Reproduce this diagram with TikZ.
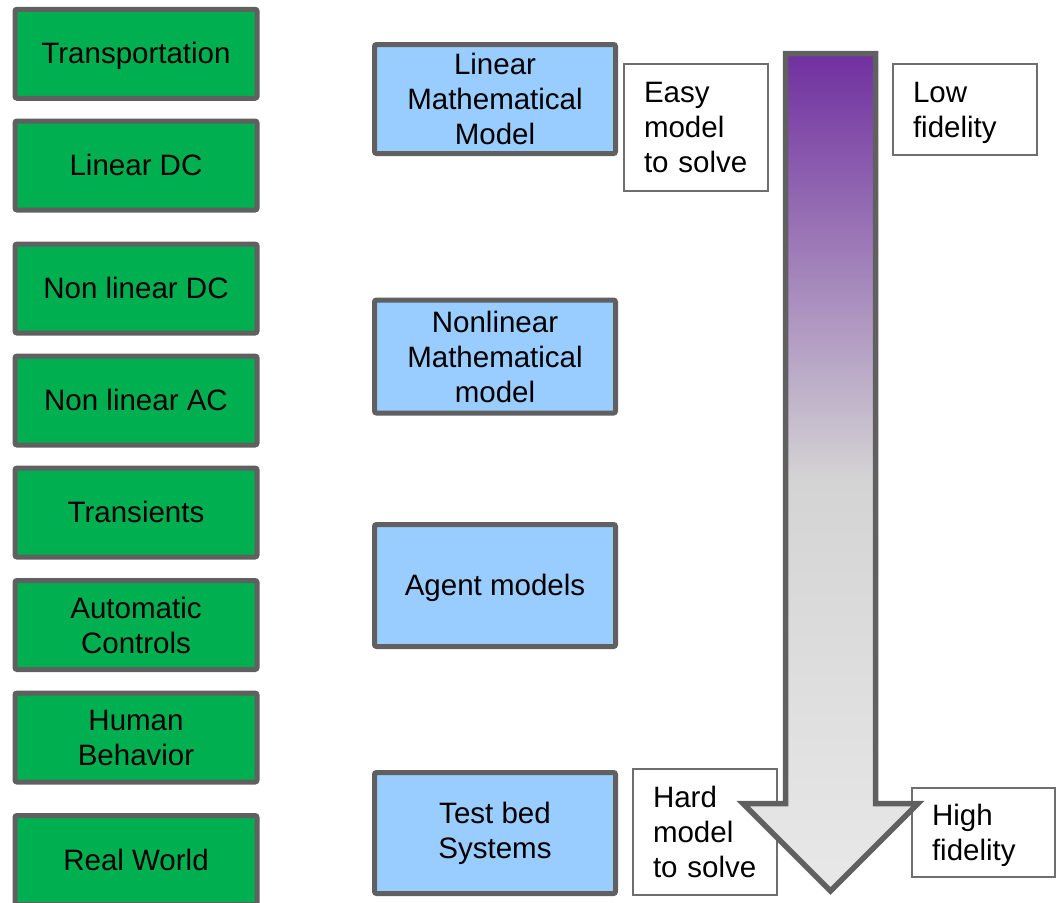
\documentclass[tikz,border=0pt]{standalone}
\usepackage{fontspec}
\setmainfont{Liberation Sans}
\definecolor{boxgreen}{HTML}{00B050}
\definecolor{boxblue}{HTML}{99CCFF}
\definecolor{edgegray}{HTML}{606060}
\definecolor{thingray}{HTML}{6E6E6E}
\definecolor{arrowpurple}{HTML}{7030A0}
\definecolor{arrowgrayA}{HTML}{D4D4D4}
\definecolor{arrowgrayB}{HTML}{E8E8E8}
\pgfdeclareverticalshading{fidelity}{100bp}{color(0bp)=(arrowgrayB); color(25bp)=(arrowgrayB); color(49.5bp)=(arrowgrayA); color(75bp)=(arrowpurple); color(100bp)=(arrowpurple)}
\newcommand{\ppstrut}{\rule[-0.212em]{0pt}{1.117em}}
\tikzset{
  txt/.style={font=\fontsize{29.5}{35}\selectfont, text=black},
  oneline/.style={execute at begin node=\ppstrut, execute at end node=\ppstrut},
  greenbox/.style={txt, draw=edgegray, line width=5pt, fill=boxgreen, rounded corners=2pt,
    minimum width=242pt, minimum height=89pt, align=center, inner sep=0pt},
  bluebox/.style={txt, draw=edgegray, line width=5pt, fill=boxblue, rounded corners=2pt,
    minimum width=241pt, align=center, inner sep=0pt},
  notebox/.style={txt, oneline, draw=thingray, line width=1.5pt, fill=white, align=left,
    inner xsep=20pt, inner ysep=0pt, text width=104pt},
  bigarrow/.style={draw=edgegray, line width=5.5pt, line join=miter, shading=fidelity}
}
\begin{document}
\begin{tikzpicture}[x=1pt,y=-1pt]
\useasboundingbox (0,0) rectangle (1056,902);
\clip (0,0) rectangle (1056,902);
% left column
\node[greenbox, oneline] (transport) at (136,53.75) {Transportation};
\node[greenbox, oneline] (lindc) at (136,165.5) {Linear DC};
\node[greenbox, oneline] (nldc) at (136,288.5) {Non linear DC};
\node[greenbox, oneline] (nlac) at (136,400.5) {Non linear AC};
\node[greenbox, oneline] (trans) at (136,512.5) {Transients};
\node[greenbox] (autoc) at (136,625) {Automatic\\Controls};
\node[greenbox] (human) at (136,737.5) {Human\\Behavior};
\node[greenbox, oneline] (real) at (136,860) {Real World};
% middle column
\node[bluebox, minimum height=109pt] (linmath) at (495,99) {Linear\\Mathematical\\Model};
\node[bluebox, minimum height=113pt] (nlmath) at (495,356.5) {Nonlinear\\Mathematical\\model};
\node[bluebox, oneline, minimum height=122pt] (agent) at (495,585.5) {Agent models};
\node[bluebox, minimum height=121pt] (testbed) at (495,833) {Test bed\\Systems};
% notes
\node[notebox, minimum height=127pt] (easy) at (696,127.5) {Easy\\model\\to solve};
\node[notebox, minimum height=91pt] (low) at (965,109.5) {Low\\fidelity};
\node[notebox, minimum height=126pt] (hard) at (705,832) {Hard\\model\\to solve};
\node[notebox, minimum height=89pt, text width=103pt] (high) at (983.5,832.5) {High\\fidelity};
% big arrow
\shadedraw[bigarrow] (785.5,53.5) -- (875.5,53.5) -- (875.5,803.5) -- (918,803.5)
  -- (830.5,891) -- (743,803.5) -- (785.5,803.5) -- cycle;
\end{tikzpicture}
\end{document}
